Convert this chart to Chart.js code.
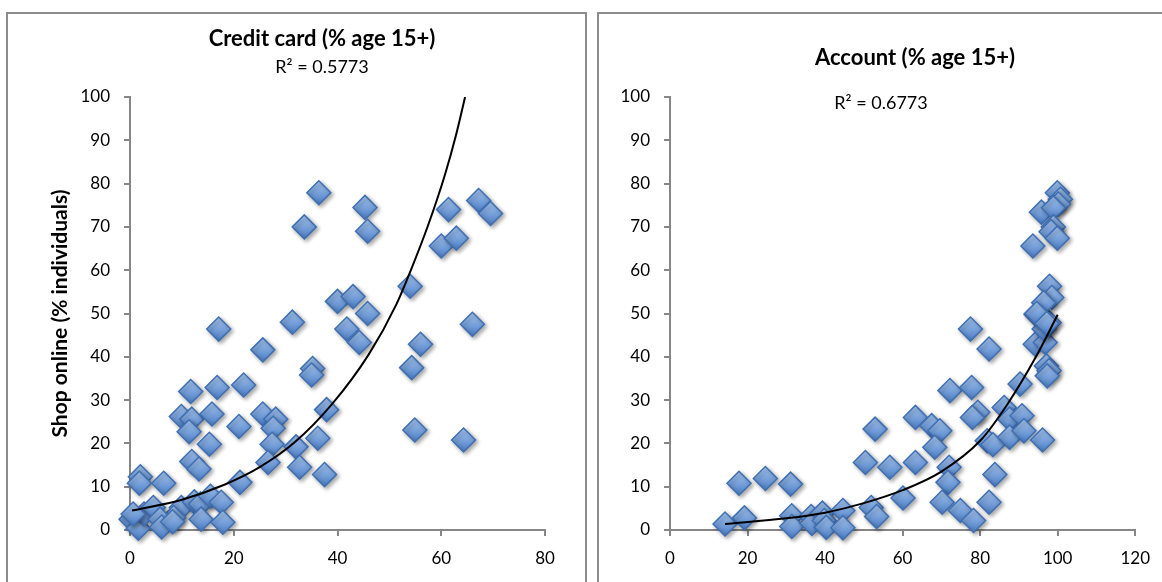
<!DOCTYPE html>
<html>
<head>
<meta charset="utf-8">
<script src="https://cdn.jsdelivr.net/npm/chart.js@4.4.1/dist/chart.umd.min.js"></script>
<style>
  body { margin: 0; background: #fff; width: 1162px; height: 582px; overflow: hidden; position: relative; }
  .panel { position: absolute; top: 12px; height: 620px; border: 2px solid #8c8c8c; box-sizing: border-box; }
  #panelA { left: 6px; width: 581px; }
  #panelB { left: 597px; width: 620px; }
  canvas { position: absolute; top: 0; }
  #chartA { left: 0; }
  #chartB { left: 582px; }
</style>
</head>
<body>
<div class="panel" id="panelA"></div>
<div class="panel" id="panelB"></div>
<canvas id="chartA" width="582" height="582"></canvas>
<canvas id="chartB" width="580" height="582"></canvas>
<script>
// Credit card (% age 15+) vs shop online
const creditX = [36.4, 33.6, 45.3, 45.8, 61.4, 60, 62.9, 67.2, 69.5, 54, 40, 43, 45.8, 31.3, 41.8, 66, 17.1,
  25.6, 44.2, 56, 54.3, 35.2, 35, 11.7, 16.8, 21.9, 9.9, 11.9, 15.8, 11.4, 15.3, 21, 25.6, 28.1, 27.6, 27.4,
  26.6, 32, 32.7, 36.2, 37.5, 37.9, 54.9, 64.3, 11.9, 13.3, 21.2, 2, 1.8, 6.5, 9.9, 8.4, 12.4, 13.6, 15.5,
  17.6, 13.7, 17.9, 0.2, 1.6, 2.7, 4.5, 5.8, 6.1, 0.6, 8.2];
const creditShop = [77.9, 70, 74.5, 69, 74, 65.6, 67.4, 76.1, 73.1, 56.3, 52.8, 53.9, 50, 48, 46.4, 47.5, 46.4,
  41.6, 43.3, 42.9, 37.5, 37.3, 35.8, 32, 32.9, 33.5, 26.2, 25.6, 26.8, 22.7, 19.8, 23.9, 26.8, 25.6, 23.5, 19.8,
  15.6, 19.2, 14.5, 21.2, 12.8, 27.8, 23.1, 20.8, 15.8, 14.1, 11, 12.3, 10.8, 10.8, 5.2, 2.9, 6.5, 6.0, 7.8,
  6.4, 2.5, 1.8, 2.5, 0.4, 3.7, 5.2, 2.5, 0.7, 3.7, 1.9];
// trendline
const creditTrendX = [0.4, 10, 18.3, 25, 31.8, 38.9, 46, 51.3, 54.3, 57.5, 60.7, 62.8, 64.6];
const creditTrendY = [4.5, 7, 10.5, 14.5, 20.3, 29, 40.5, 52, 60.5, 70.5, 82, 91, 100];

// Account (% age 15+) vs shop online
const accountX = [14.2, 17.8, 19.2, 24.6, 31.1, 31.4, 31.4, 36.4, 36.6, 39.3, 39.8, 40.3, 44.6, 44.6, 50.4,
  52.9, 51.9, 53.3, 56.7, 60.1, 63.3, 63.3, 67.5, 69.6, 68.3, 72.2, 72, 71.7, 70.2, 74.9, 78.3, 77.5, 77.8,
  79.4, 78, 82.3, 82.3, 83.8, 81.8, 83.3, 86.2, 87.6, 87.6, 90.3, 90.8, 91.3, 96.1, 94.4, 94.2, 96.8, 96.5,
  97.8, 97.1, 97.8, 97.3, 99.9, 100.7, 100.2, 95.8, 98.9, 98.9, 98.3, 99.9, 93.6, 97.9, 98.5, 96.4, 94.6, 97.2];
const accountShop = [1.4, 10.8, 2.8, 11.9, 10.6, 3.3, 0.8, 3.1, 1.5, 3.9, 2.2, 0.6, 4.5, 0.5, 15.6,
  23.3, 5.2, 3.1, 14.5, 7.4, 26, 15.6, 24.1, 22.9, 19.1, 32.2, 14.5, 11, 6.4, 4.5, 2.2, 46.4, 32.9,
  27.2, 26, 41.8, 6.4, 12.8, 20.6, 19.7, 28.3, 25.6, 21.4, 33.7, 26.4, 22.9, 20.8, 49.8, 42.9, 43.3, 46.4,
  47.9, 37.9, 36.8, 35.6, 77.9, 76.4, 75.3, 73.4, 74.4, 70, 68.9, 67.4, 65.6, 56.3, 53.7, 52.5, 50, 47.7];
const accountTrendX = [14.2, 30, 40, 50, 60, 70, 80, 87, 94.4, 100];
const accountTrendY = [1.4, 2.7, 4, 6.2, 9.2, 13.5, 20.6, 29, 40, 49.7];

const yTicks = [0, 10, 20, 30, 40, 50, 60, 70, 80, 90, 100];

const FONT = "Lato";
const GREY = "#868686";

function pairs(xs, ys) {
  return xs.map((x, i) => ({ x, y: ys[i] }));
}

function diamondFill(ctx) {
  const chart = ctx.chart;
  if (ctx.type !== "data" || !ctx.parsed) return "#5b8ed6";
  const y = chart.scales.y.getPixelForValue(ctx.parsed.y);
  if (!isFinite(y)) return "#5b8ed6";
  const g = chart.ctx.createLinearGradient(0, y - 12, 0, y + 12);
  g.addColorStop(0, "#a8c8f2");
  g.addColorStop(1, "#4a7cc4");
  return g;
}

// soft drop shadow under the diamonds
const shadow = {
  id: "shadow",
  beforeDatasetDraw(chart, args) {
    if (args.index !== 1) return;
    const c = chart.ctx;
    c.save();
    c.shadowColor = "rgba(0,0,0,0.35)";
    c.shadowBlur = 4;
    c.shadowOffsetX = 2;
    c.shadowOffsetY = 2;
  },
  afterDatasetDraw(chart, args) {
    if (args.index === 1) chart.ctx.restore();
  },
};

// titles and R² labels, placed like the Excel text boxes
const textBoxes = {
  id: "textBoxes",
  afterDraw(chart, args, opts) {
    const c = chart.ctx;
    c.save();
    c.fillStyle = "#000";
    c.textAlign = "center";
    c.textBaseline = "middle";
    (opts.items || []).forEach((t) => {
      c.font = t.font;
      c.fillText(t.text, t.x, t.y);
    });
    c.restore();
  },
};

function axisStyle(extra) {
  return Object.assign({
    type: "linear",
    grid: { drawOnChartArea: false, drawTicks: true, tickLength: 6, color: GREY, lineWidth: 2 },
    border: { color: GREY, width: 2 },
  }, extra);
}

function createChart(el, cfg) {
  return new Chart(el, {
    type: "scatter",
    data: {
      datasets: [
        {
          type: "line",
          data: pairs(cfg.trendX, cfg.trendY),
          borderColor: "#000",
          borderWidth: 2,
          pointRadius: 0,
          cubicInterpolationMode: "monotone",
          fill: false,
        },
        {
          data: pairs(cfg.xs, cfg.ys),
          pointStyle: "rectRot",
          pointRadius: 12,
          pointBorderWidth: 1.5,
          pointBorderColor: "#3f6fb3",
          pointBackgroundColor: diamondFill,
          clip: false,
        },
      ],
    },
    options: {
      responsive: false,
      animation: false,
      layout: { padding: cfg.padding },
      plugins: {
        legend: { display: false },
        tooltip: { enabled: false },
        textBoxes: { items: cfg.texts },
      },
      scales: {
        x: axisStyle({
          min: 0,
          max: cfg.xMax,
          ticks: { stepSize: 20, color: "#000", padding: 12, font: { family: FONT, size: 17 } },
          afterFit: (s) => { s.height = 52; },
        }),
        y: axisStyle({
          min: 0,
          max: 100,
          afterBuildTicks: (s) => { s.ticks = yTicks.map((v) => ({ value: v })); },
          ticks: { color: "#000", padding: 14, font: { family: FONT, size: 17 } },
          title: {
            display: !!cfg.yTitle,
            text: cfg.yTitle || "",
            color: "#000",
            font: { family: FONT, size: 21, weight: "bold" },
            padding: { top: 48, bottom: 0 },
          },
          afterFit: (s) => { s.width = cfg.yWidth; },
        }),
      },
    },
    plugins: [shadow, textBoxes],
  });
}

const chartA = createChart(document.getElementById("chartA"), {
  xs: creditX,
  ys: creditShop,
  trendX: creditTrendX,
  trendY: creditTrendY,
  xMax: 80,
  texts: [
    { text: "Credit card (% age 15+)", x: 322, y: 39, font: "bold 22px " + FONT },
    { text: "R² = 0.5773", x: 322, y: 67, font: "18px " + FONT },
  ],
  yTitle: "Shop online (% individuals)",
  yWidth: 130,
  padding: { top: 97, right: 37, left: 0, bottom: 0 },
});

const chartB = createChart(document.getElementById("chartB"), {
  xs: accountX,
  ys: accountShop,
  trendX: accountTrendX,
  trendY: accountTrendY,
  xMax: 120,
  texts: [
    { text: "Account (% age 15+)", x: 333, y: 58, font: "bold 22px " + FONT },
    { text: "R² = 0.6773", x: 299, y: 103, font: "18px " + FONT },
  ],
  yWidth: 88,
  padding: { top: 97, right: 25, left: 0, bottom: 0 },
});
</script>
</body>
</html>
